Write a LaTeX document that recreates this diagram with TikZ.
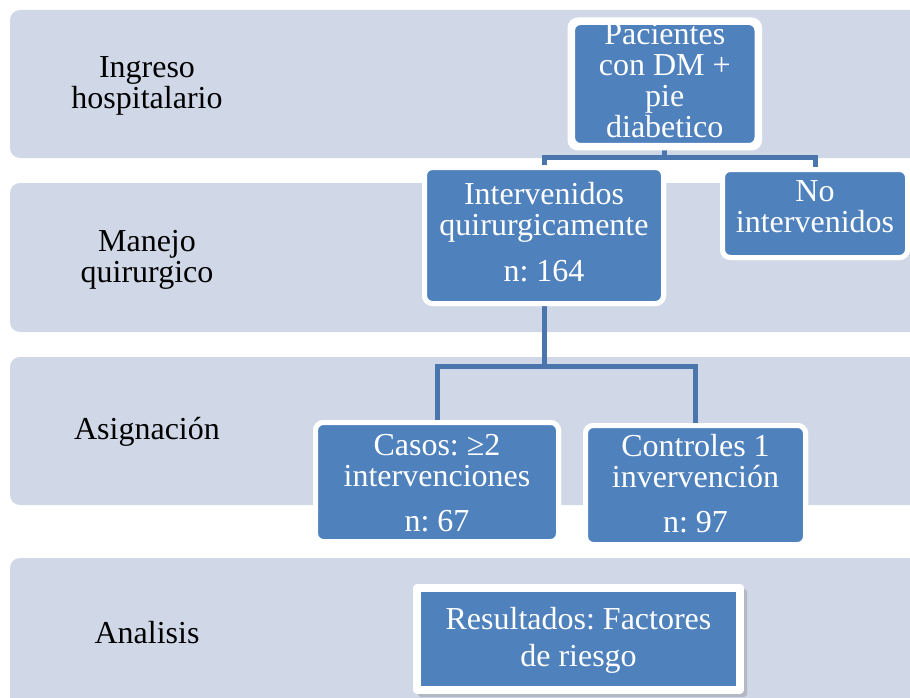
\documentclass[tikz,border=0pt]{standalone}
\usepackage{fontspec}
\setmainfont{Liberation Serif}
\frenchspacing
\definecolor{bandfill}{HTML}{D0D8E8}
\definecolor{boxblue}{HTML}{4F81BD}
\definecolor{connblue}{HTML}{4A75AD}
\definecolor{shadowgray}{HTML}{B4B8C4}
\begin{document}
\begin{tikzpicture}[x=1pt,y=-1pt,
  band/.style={fill=bandfill, draw=none, rounded corners=10pt},
  lbl/.style={font=\fontsize{32}{31}\selectfont, text=black, align=center, inner sep=0pt},
  box/.style={fill=boxblue, draw=white, line width=5pt, rounded corners=8pt, inner sep=0pt},
  boxtxt/.style={font=\fontsize{32}{31}\selectfont, text=white, align=center, inner sep=0pt},
  conn/.style={draw=connblue, line width=5pt}]
\clip (0,0) rectangle (910,698);
\fill[white] (0,0) rectangle (910,698);
% bands
\path[band] (10,10) rectangle (940,158);
\path[band] (10,183) rectangle (940,332);
\path[band] (10,357) rectangle (940,505);
\path[band] (10,558) rectangle (940,730);
% band labels
\node[lbl] (l1) at (147,86) {Ingreso\\hospitalario};
\node[lbl] (l2) at (147,260) {Manejo\\quirurgico};
\node[lbl] (l3) at (147,432) {Asignación};
\node[lbl] (l4) at (147,633) {Analisis};
% boxes (shapes)
\node[box, minimum width=184.5pt, minimum height=123pt] (pac) at (664.75,84) {};
\node[box, minimum width=239pt, minimum height=136pt] (int) at (544,235.5) {};
\node[box, minimum width=185pt, minimum height=88pt] (noint) at (815,213.5) {};
\node[box, minimum width=243pt, minimum height=119pt] (cas) at (437,482) {};
\node[box, minimum width=220pt, minimum height=119pt] (con) at (695.5,485) {};
% connectors
\draw[conn] (pac.south) -- ++(0,9.5) -| (int.north);
\draw[conn] (pac.south) -- ++(0,9.5) -| (noint.north);
\draw[conn] (int.south) -- ++(0,60.5) -| (cas.north);
\draw[conn] (int.south) -- ++(0,60.5) -| (con.north);
% redraw boxes over connectors
\node[box, minimum width=184.5pt, minimum height=123pt] at (pac) {};
\node[box, minimum width=239pt, minimum height=136pt] at (int) {};
\node[box, minimum width=185pt, minimum height=88pt] at (noint) {};
\node[box, minimum width=243pt, minimum height=119pt] at (cas) {};
\node[box, minimum width=220pt, minimum height=119pt] at (con) {};
% results box with shadow
\fill[shadowgray, rounded corners=3pt] (418,589) rectangle (747,697);
\node[fill=boxblue, draw=white, line width=8pt, line join=round, inner sep=0pt,
  minimum width=323pt, minimum height=101.5pt] (res) at (578.5,638.8) {};
% texts
\node[boxtxt] (tpac) at (664.75,81) {Pacientes\\con DM +\\pie\\diabetico};
\draw[white, line width=5pt, rounded corners=8pt] (pac.north west) rectangle (pac.south east);
\node[boxtxt] (tint) at (544,232) {Intervenidos\\quirurgicamente\\[15pt]n: 164};
\node[boxtxt] (tnoint) at (815,207) {No\\intervenidos};
\node[boxtxt] (tcas) at (437,483) {Casos: ≥2\\intervenciones\\[14pt]n: 67};
\node[boxtxt] (tcon) at (695.5,484) {Controles 1\\invervención\\[14pt]n: 97};
\node[boxtxt, font=\fontsize{32}{37}\selectfont] (tres) at (578.5,640) {Resultados: Factores\\de riesgo};
\end{tikzpicture}
\end{document}
